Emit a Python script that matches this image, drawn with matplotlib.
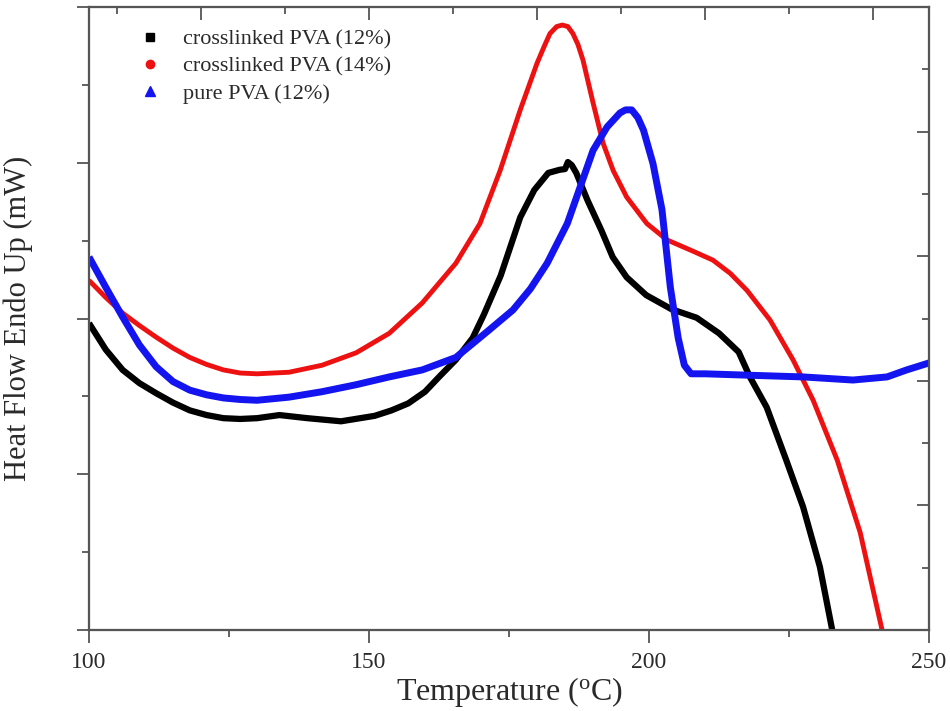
import numpy as np
import matplotlib
matplotlib.use('Agg')
import matplotlib.pyplot as plt
from matplotlib.lines import Line2D
from matplotlib.ticker import MultipleLocator, NullFormatter

plt.rcParams['font.family'] = ['Liberation Serif', 'DejaVu Serif']
plt.rcParams['mathtext.fontset'] = 'stix'

# crosslinked PVA (12%)
t_black = [100, 103, 106, 109, 112, 115, 118, 121, 124, 127, 130, 134, 139, 145, 151,
           154, 157, 160, 162.5, 165.5, 168.5, 170.5, 173.5, 177, 179.5, 182, 184, 185,
           185.5, 186.2, 187, 189, 191.5, 193.5, 196, 199.5, 204, 208.5, 212.5, 216,
           218, 221, 224.5, 227.5, 230.5, 232.7]
hf_black = [3.94, 3.60, 3.34, 3.17, 3.04, 2.92, 2.82, 2.76, 2.72, 2.71, 2.72, 2.76, 2.72,
            2.68, 2.75, 2.82, 2.91, 3.06, 3.25, 3.47, 3.75, 4.05, 4.55, 5.30, 5.65, 5.87,
            5.91, 5.92, 6.01, 5.97, 5.87, 5.52, 5.13, 4.79, 4.53, 4.30, 4.12, 4.01,
            3.81, 3.57, 3.25, 2.86, 2.18, 1.58, 0.81, 0.0]

# crosslinked PVA (14%)
t_red = [100, 103, 106, 109, 112, 115, 118, 121, 124, 127, 130, 135.7, 141.6, 147.7,
         153.6, 159.5, 165.5, 169.8, 173.4, 177, 180, 181.3, 182.3, 183.5, 184.5, 185.5,
         186.4, 187.3, 188.2, 190, 191.8, 193.6, 196, 199.6, 203.2, 208, 211.4, 214.5,
         217.5, 221.6, 225.7, 229.3, 233.6, 237.7, 241.6]
hf_red = [4.49, 4.27, 4.07, 3.91, 3.76, 3.62, 3.50, 3.41, 3.34, 3.30, 3.29, 3.31, 3.40,
          3.56, 3.81, 4.20, 4.71, 5.22, 5.90, 6.68, 7.28, 7.50, 7.66, 7.75, 7.77, 7.75,
          7.66, 7.52, 7.32, 6.77, 6.25, 5.90, 5.56, 5.22, 5.01, 4.86, 4.75, 4.58, 4.36,
          3.98, 3.47, 2.95, 2.18, 1.25, 0.0]

# pure PVA (12%)
t_blue = [100, 103, 106, 109, 112, 115, 118, 121, 124, 127, 130, 135.7, 141.6, 147.7,
          153.6, 159.5, 165.5, 171.4, 175.7, 178.8, 181.8, 185.4, 187.7, 190, 192.5,
          194.8, 195.8, 196.9, 198, 199, 200.7, 202.3, 203.8, 205.2, 206.3, 207.5, 210,
          218.6, 227.5, 236.4, 242.5, 246, 250]
hf_blue = [4.79, 4.40, 4.02, 3.66, 3.38, 3.19, 3.08, 3.02, 2.98, 2.96, 2.95, 2.99, 3.06,
           3.15, 3.25, 3.34, 3.50, 3.85, 4.11, 4.38, 4.71, 5.22, 5.69, 6.16, 6.46, 6.64,
           6.68, 6.68, 6.58, 6.42, 5.99, 5.40, 4.40, 3.75, 3.40, 3.29, 3.29, 3.27, 3.25,
           3.21, 3.25, 3.34, 3.43]

labels = ['crosslinked PVA (12%)', 'crosslinked PVA (14%)', 'pure PVA (12%)']

txt = '#2a2a2a'
spine_c = '#555555'

fig = plt.figure(figsize=(9.5, 7.11), dpi=100)
ax = fig.add_axes([0.0937, 0.114, 0.8843, 0.876])

style = dict(solid_capstyle='butt', solid_joinstyle='round')
ax.plot(t_black, hf_black, color='black', lw=4.5, **style)
ax.plot(t_red, hf_red, color='#ee1111', lw=3.5, **style)
ax.plot(t_blue, hf_blue, color='#1414f0', lw=5.0, **style)

ax.set_xlim(100, 250)
ax.set_ylim(0, 8)
ax.xaxis.set_major_locator(MultipleLocator(50))
ax.xaxis.set_minor_locator(MultipleLocator(25))
ax.yaxis.set_major_locator(MultipleLocator(2))
ax.yaxis.set_minor_locator(MultipleLocator(1))
ax.yaxis.set_major_formatter(NullFormatter())
ax.tick_params(which='both', direction='out', color=spine_c, width=1.3,
               labelsize=17, labelcolor=txt, pad=7)
ax.tick_params(which='major', length=9)
ax.tick_params(which='minor', length=5)

# mirror axes: right and top with their own tick spacing, ticks inward
axr = ax.twinx()
axr.set_ylim(0, 10)
axr.yaxis.set_major_locator(MultipleLocator(2))
axr.yaxis.set_minor_locator(MultipleLocator(1))
axr.yaxis.set_major_formatter(NullFormatter())
axr.tick_params(which='both', direction='in', color=spine_c, width=1.3)
axr.tick_params(which='major', length=9)
axr.tick_params(which='minor', length=5)

axt = ax.twiny()
axt.set_xlim(100, 250)
axt.xaxis.set_major_locator(MultipleLocator(30))
axt.xaxis.set_minor_locator(MultipleLocator(15))
axt.xaxis.set_major_formatter(NullFormatter())
axt.tick_params(which='both', direction='in', color=spine_c, width=1.3)
axt.tick_params(which='major', length=9)
axt.tick_params(which='minor', length=5)

for a in (ax, axr, axt):
    for s in a.spines.values():
        s.set_color(spine_c)
        s.set_linewidth(1.5)

ax.set_xlabel('Temperature ($\\mathregular{^{o}}$C)', fontsize=23, color=txt, labelpad=1)
ax.set_ylabel('Heat Flow Endo Up (mW)', fontsize=22, color=txt, labelpad=24)

handles = [
    Line2D([], [], ls='none', marker='s', ms=6, color='black'),
    Line2D([], [], ls='none', marker='o', ms=6, color='#ee1111'),
    Line2D([], [], ls='none', marker='^', ms=7, color='#1414f0'),
]
leg = axt.legend(handles, labels, loc='upper left', bbox_to_anchor=(0.062, 0.965),
                 frameon=False, fontsize=16, handlelength=0.8, handletextpad=1.1,
                 labelspacing=0.3, borderpad=0, borderaxespad=0, labelcolor=txt)

fig.savefig('out.png', dpi=100)
